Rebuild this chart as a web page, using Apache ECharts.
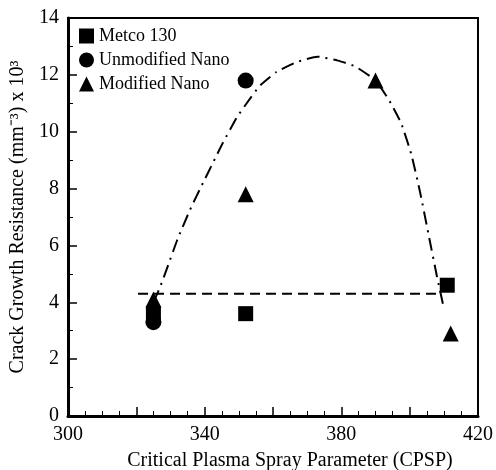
<!DOCTYPE html>
<html>
<head>
<meta charset="utf-8">
<script src="https://cdn.jsdelivr.net/npm/echarts@6/dist/echarts.min.js"></script>
<style>
  html, body { margin: 0; padding: 0; background: #fff; }
  #chart { width: 496px; height: 470px; }
</style>
</head>
<body>
<div id="chart"></div>
<script>
// points: [CPSP, resistance]
const metco = [[325, 3.6], [352, 3.6], [411, 4.6]]
const unmodNano = [[325, 3.3], [352, 11.8]]
const modNano = [[325, 4.1], [352, 7.8], [390, 11.8], [412, 2.9]]
// fitted dashed line (flat)
const flatFit = [[320.5, 4.3], [408, 4.3]]
// dash-dot curve
const curveFit = [
  [325, 4.0], [327, 4.55], [329, 5.2], [332, 6.2], [335.7, 7.25], [339.5, 8.2],
  [342.4, 8.9], [345.3, 9.6], [349.4, 10.5], [352.3, 11.0], [356, 11.6],
  [361, 12.1], [367, 12.45], [373, 12.64], [379, 12.5], [384, 12.3],
  [390, 11.8], [394, 11.1], [397.5, 10.3], [400.5, 9.2], [403, 7.9],
  [405.5, 6.4], [408, 4.9], [410, 3.8]
]
const legendNames = ['Metco 130', 'Unmodified Nano', 'Modified Nano']

const serif = 'Liberation Serif'
const chart = echarts.init(document.getElementById('chart'))

chart.setOption({
  animation: false,
  backgroundColor: '#fff',
  textStyle: { fontFamily: serif, color: '#000' },
  grid: {
    left: 68, right: 18, top: 18, bottom: 54,
    outerBoundsMode: 'none',
    show: true, borderColor: '#000', borderWidth: 2
  },
  legend: {
    data: legendNames,
    orient: 'vertical',
    left: 74, top: 22,
    itemWidth: 15, itemHeight: 15, itemGap: 6,
    textStyle: { fontFamily: serif, fontSize: 18, color: '#000' }
  },
  xAxis: {
    type: 'value',
    min: 300, max: 420, interval: 20,
    name: 'Critical Plasma Spray Parameter (CPSP)',
    nameLocation: 'middle',
    nameGap: 35,
    nameTextStyle: { fontFamily: serif, fontSize: 20, color: '#000', padding: [0, 0, 0, 34] },
    axisLine: { lineStyle: { color: '#000', width: 3 } },
    axisTick: { inside: true, length: 9, lineStyle: { color: '#000', width: 1.5 } },
    minorTick: { show: true, splitNumber: 4, length: 5, lineStyle: { color: '#000' } },
    splitLine: { show: false },
    axisLabel: {
      fontFamily: serif, fontSize: 20, color: '#000', margin: 9,
      formatter: v => ((v - 300) % 40 === 0 ? String(v) : '')
    }
  },
  yAxis: {
    type: 'value',
    min: 0, max: 14, interval: 2,
    name: 'Crack Growth Resistance (mm\u207B\u00B3) x 10\u00B3',
    nameLocation: 'middle',
    nameGap: 34,
    nameTextStyle: { fontFamily: serif, fontSize: 20, color: '#000' },
    axisLine: { lineStyle: { color: '#000', width: 3 } },
    axisTick: { inside: true, length: 9, lineStyle: { color: '#000', width: 1.5 } },
    minorTick: { show: true, splitNumber: 2, length: 5, lineStyle: { color: '#000' } },
    splitLine: { show: false },
    axisLabel: { fontFamily: serif, fontSize: 20, color: '#000', margin: 9 }
  },
  series: [
    {
      name: 'flat',
      type: 'line',
      data: flatFit,
      symbol: 'none',
      lineStyle: { color: '#000', width: 2, type: [10, 6] },
      z: 1
    },
    {
      name: 'curve',
      type: 'line',
      data: curveFit,
      smooth: 0.15,
      symbol: 'none',
      lineStyle: { color: '#000', width: 2, type: [13, 6, 2, 6] },
      z: 1
    },
    {
      name: 'Metco 130',
      type: 'scatter',
      data: metco,
      symbol: 'rect',
      symbolSize: 15,
      itemStyle: { color: '#000', opacity: 1 },
      z: 2
    },
    {
      name: 'Unmodified Nano',
      type: 'scatter',
      data: unmodNano,
      symbol: 'circle',
      symbolSize: 16,
      itemStyle: { color: '#000', opacity: 1 },
      z: 3
    },
    {
      name: 'Modified Nano',
      type: 'scatter',
      data: modNano,
      symbol: 'triangle',
      symbolSize: 16,
      itemStyle: { color: '#000', opacity: 1 },
      z: 4
    }
  ]
})
</script>
</body>
</html>
